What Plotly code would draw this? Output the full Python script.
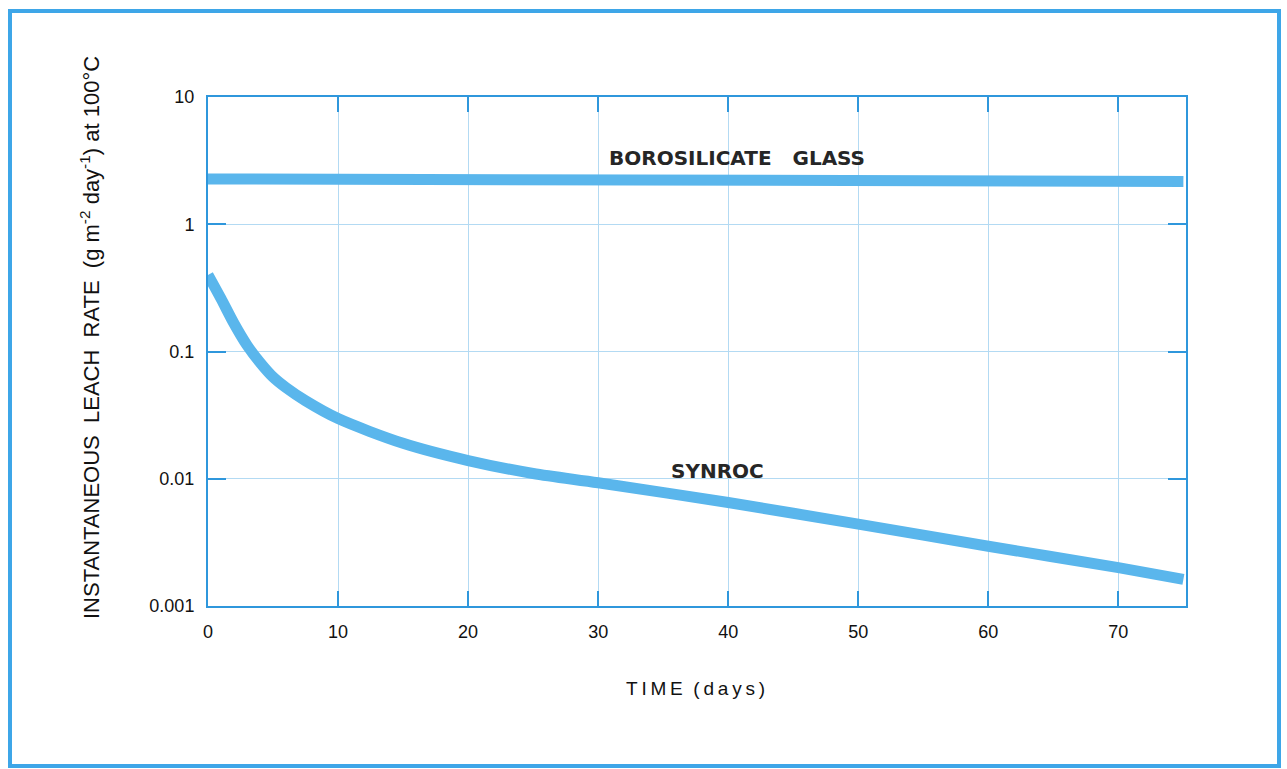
import plotly.graph_objects as go

# ---- data ----
days_synroc = [0, 1, 2, 3, 4, 5, 6, 7.5, 10, 15, 20, 25, 30, 40, 50, 60, 70, 75]
rate_synroc = [0.40, 0.26, 0.166, 0.112, 0.082, 0.063, 0.052, 0.041, 0.0297, 0.019, 0.0139,
               0.0110, 0.0093, 0.0065, 0.0044, 0.00295, 0.0020, 0.00162]
days_glass = [0, 25, 50, 75]
rate_glass = [2.27, 2.24, 2.21, 2.17]

x_ticks = [0, 10, 20, 30, 40, 50, 60, 70]
y_ticks = [0.001, 0.01, 0.1, 1, 10]
y_ticktext = ["0.001", "0.01", "0.1", "1", "10"]

W, H = 1287, 769
L, R, T, B = 208, 1186, 97, 606
NB = "\u00a0"

def px(xp):
    return (xp - L) / (R - L)

def py(yp):
    return (B - yp) / (B - T)

LINE_COL = "#5ab6ec"
AXIS_COL = "#2f97dc"
GRID_COL = "#b3daf3"

fig = go.Figure()
fig.add_trace(go.Scatter(x=days_glass, y=rate_glass, mode="lines",
                         line=dict(color=LINE_COL, width=11), hoverinfo="skip"))
fig.add_trace(go.Scatter(x=days_synroc, y=rate_synroc, mode="lines",
                         line=dict(color=LINE_COL, width=11, shape="spline", smoothing=0.8),
                         hoverinfo="skip"))

tick_font = dict(family="Liberation Sans, Arial, sans-serif", size=18, color="#111111")

fig.update_xaxes(range=[0, 75.2], tickvals=x_ticks, ticks="inside", ticklen=15, tickwidth=2,
                 tickcolor=AXIS_COL, showline=True, linecolor=AXIS_COL, linewidth=2,
                 mirror="ticks", showgrid=True, gridcolor=GRID_COL, gridwidth=1,
                 zeroline=False, tickfont=tick_font, ticklabelstandoff=8)
fig.update_yaxes(type="log", range=[-3, 1], tickvals=y_ticks, ticktext=y_ticktext,
                 ticks="inside", ticklen=18, tickwidth=2, tickcolor=AXIS_COL,
                 showline=True, linecolor=AXIS_COL, linewidth=2, mirror="ticks",
                 showgrid=True, gridcolor=GRID_COL, gridwidth=1, zeroline=False,
                 tickfont=tick_font, ticklabelstandoff=8)

label_font = dict(family="DejaVu Sans, sans-serif", size=20, color="#262626", weight="bold")
title_font = dict(family="Liberation Sans, Arial, sans-serif", size=19, color="#111111")
ytitle_font = dict(family="Liberation Sans, Arial, sans-serif", size=22, color="#111111")

annotations = [
    dict(text="BOROSILICATE" + NB * 3 + "GLASS", x=px(737), y=py(158), font=label_font),
    dict(text="SYNROC", x=px(717), y=py(471), font=label_font),
    dict(text="T\u2009I\u2009M\u2009E" + NB * 2 + "(\u2009d\u2009a\u2009y\u2009s\u2009)",
         x=px(695), y=py(688), font=title_font),
    dict(text="INSTANTANEOUS" + NB * 2 + "LEACH" + NB * 2 + "RATE" + NB * 2 +
              "(g" + NB + "m<sup>-2</sup>" + NB + "day<sup>-1</sup>)" + NB + "at" + NB + "100°C",
         x=px(90), y=py(338), textangle=-90, font=ytitle_font),
]
for a in annotations:
    a.update(xref="paper", yref="paper", showarrow=False, xanchor="center", yanchor="middle")

fig.update_layout(
    width=W, height=H, autosize=False,
    margin=dict(l=L, r=W - R, t=T, b=H - B, pad=0),
    paper_bgcolor="white", plot_bgcolor="white",
    showlegend=False, annotations=annotations,
    shapes=[dict(type="rect", xref="paper", yref="paper",
                 x0=px(10), x1=px(1279), y0=py(766), y1=py(11),
                 line=dict(color="#3ea6e8", width=4), layer="above")],
)

fig.write_html("out.html", config={"displayModeBar": False},
               post_script="document.body.style.margin='0px';document.body.style.overflow='hidden';")
